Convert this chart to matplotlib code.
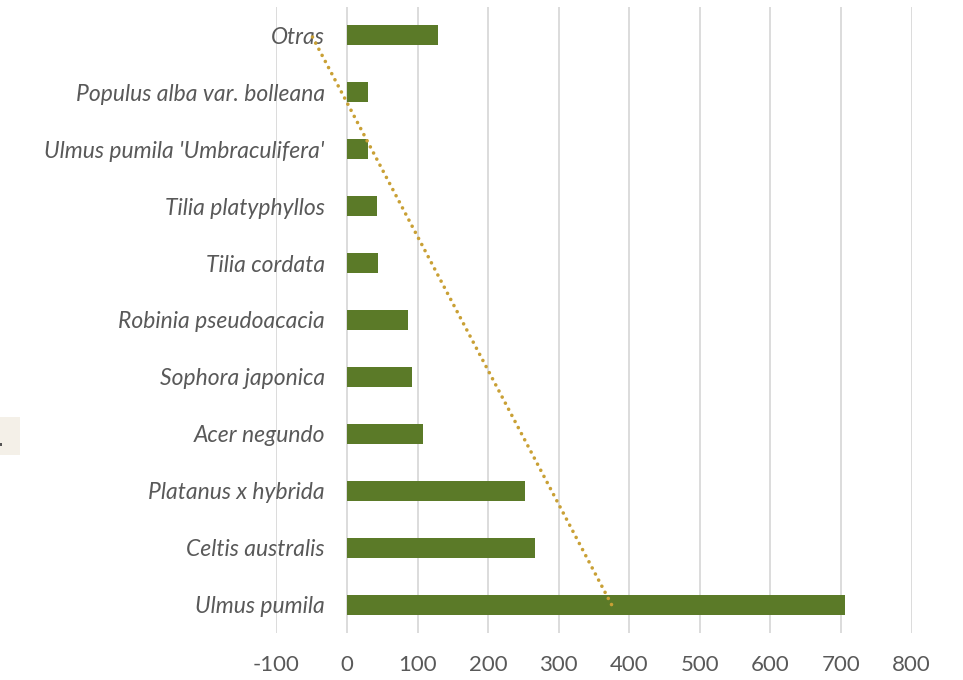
import numpy as np
import matplotlib.pyplot as plt
from matplotlib.patches import Rectangle

especies = ["Ulmus pumila", "Celtis australis", "Platanus x hybrida", "Acer negundo",
            "Sophora japonica", "Robinia pseudoacacia", "Tilia cordata",
            "Tilia platyphyllos", "Ulmus pumila 'Umbraculifera'",
            "Populus alba var. bolleana", "Otras"]
valores = [705, 267, 252, 108, 92, 87, 44, 42, 30, 30, 129]
x_ticks = [-100, 0, 100, 200, 300, 400, 500, 600, 700, 800]

verde = "#5B7A28"
dorado = "#C9A035"
gris_texto = "#595959"

fig = plt.figure(figsize=(9.63, 6.8), dpi=100)
ax = fig.add_axes([276.4 / 963, 1 - 633 / 680, (911.6 - 276.4) / 963, (633 - 7) / 680])

pos = np.arange(len(especies))
ax.barh(pos, valores, height=0.35, color=verde, zorder=3)

# linea de tendencia lineal (como Excel)
idx = pos + 1
a, b = np.polyfit(idx, valores, 1)
ax.plot(a * idx[[0, -1]] + b, pos[[0, -1]], linestyle=(0, (0.01, 1.9)), color=dorado,
        linewidth=2.6, zorder=4, dash_capstyle="round", solid_capstyle="round")

ax.set_xlim(-100, 800)
ax.set_ylim(-0.5, len(especies) - 0.5)
ax.set_xticks(x_ticks)
ax.set_xticklabels([str(v) for v in x_ticks])
ax.set_yticks(pos)
ax.set_yticklabels(especies)
ax.grid(axis="x", color="#D9D9D9", linewidth=1.3, zorder=0)
for s in ["top", "right", "bottom"]:
    ax.spines[s].set_visible(False)
ax.spines["left"].set_position(("data", 0))
ax.spines["left"].set_visible(False)
ax.tick_params(axis="x", length=0, pad=16, labelsize=16, labelcolor=gris_texto)
ax.tick_params(axis="y", length=0, pad=16, labelsize=16.5, labelcolor=gris_texto)
for t in ax.get_xticklabels():
    t.set_fontfamily("Lato")
for t in ax.get_yticklabels():
    t.set_fontfamily("Lato")
    t.set_fontstyle("italic")

# recuadro beige a la izquierda
fig.patches.append(Rectangle((0, 1 - 455 / 680), 20 / 963, 38 / 680, transform=fig.transFigure,
                             facecolor="#F4F0E8", edgecolor="none"))
fig.patches.append(Rectangle((0, 1 - 446 / 680), 1.5 / 963, 3 / 680, transform=fig.transFigure,
                             facecolor="#555555", edgecolor="none"))

fig.savefig("out.png", dpi=100)
